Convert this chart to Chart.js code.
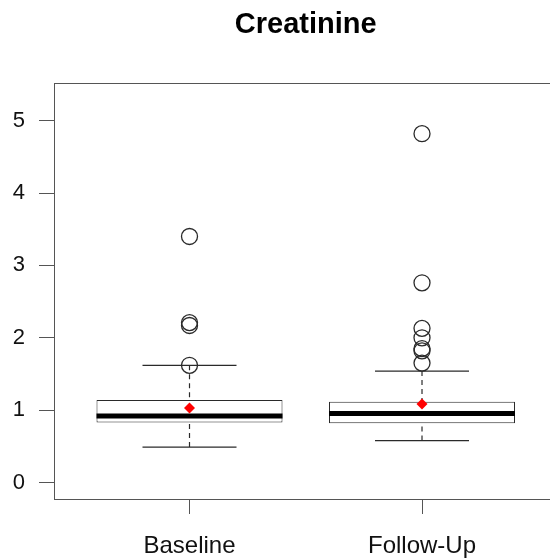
<!DOCTYPE html>
<html>
<head>
<meta charset="utf-8">
<title>Creatinine</title>
<script src="https://cdn.jsdelivr.net/npm/chart.js@4"></script>
<style>
    html, body { margin: 0; padding: 0; background: #fff; overflow: hidden; }
    #wrap { width: 550px; height: 558px; }
</style>
</head>
<body>
<div id="wrap"><canvas id="myChart" width="550" height="558"></canvas></div>
<script>
// data
const chartTitle = 'Creatinine';
const groups = ['Baseline', 'Follow-Up'];
const groupPos = [1, 2];
const lowerWhisker = [0.49, 0.58];
const q1 = [0.83, 0.82];
const median = [0.92, 0.955];
const q3 = [1.14, 1.115];
const upperWhisker = [1.62, 1.54];
const means = [1.03, 1.085];
const outliers = [
    [1.62, 2.17, 2.21, 3.40],
    [1.65, 1.82, 1.85, 2.00, 2.13, 2.76, 4.82]
];
const yTicks = [0, 1, 2, 3, 4, 5];

const LINE = '#2a2a2a';
const AXIS = '#555';

// points / segments built from the arrays above
const meanPoints = groupPos.map((x, i) => ({x: x, y: means[i]}));
const outlierPoints = [];
outliers.forEach((list, i) => list.forEach(v => outlierPoints.push({x: groupPos[i], y: v})));
const medianPoints = groupPos.map((x, i) => ({x: x, y: median[i]}));
const staplePoints = [];
groupPos.forEach((x, i) => {
    staplePoints.push({x: x, y: lowerWhisker[i]});
    staplePoints.push({x: x, y: upperWhisker[i]});
});
const whiskerPoints = [];
groupPos.forEach((x, i) => {
    whiskerPoints.push({x: x, y: lowerWhisker[i]}, {x: x, y: q1[i]}, {x: x, y: null});
    whiskerPoints.push({x: x, y: upperWhisker[i]}, {x: x, y: q3[i]}, {x: x, y: null});
});
const boxData = groupPos.map((x, i) => ({x: x, y: [q1[i], q3[i]]}));

// title centred over the plot region, plus the top edge of the box frame
const rStyle = {
    id: 'rStyle',
    afterDraw(chart) {
        const ctx = chart.ctx;
        const area = chart.chartArea;
        ctx.save();
        ctx.strokeStyle = AXIS;
        ctx.lineWidth = 1;
        ctx.beginPath();
        ctx.moveTo(area.left, Math.round(area.top) + 0.5);
        ctx.lineTo(area.right, Math.round(area.top) + 0.5);
        ctx.stroke();
        ctx.fillStyle = '#000';
        ctx.font = 'bold 29px "Liberation Sans", Arial, sans-serif';
        ctx.textAlign = 'center';
        ctx.textBaseline = 'alphabetic';
        ctx.fillText(chartTitle, chart.scales.x.getPixelForValue(1.5), 33);
        ctx.restore();
    }
};

const ctx = document.getElementById('myChart');

let myChart = new Chart(ctx, {
    type: 'bar',
    data: {
        datasets: [
            {
                type: 'scatter',
                label: 'Mean',
                data: meanPoints,
                pointStyle: 'rectRot',
                pointRadius: 5.5,
                backgroundColor: '#ff0000',
                borderColor: '#ff0000',
                borderWidth: 0
            },
            {
                type: 'scatter',
                label: 'Outliers',
                data: outlierPoints,
                pointStyle: 'circle',
                pointRadius: 8,
                backgroundColor: 'rgba(0,0,0,0)',
                borderColor: LINE,
                borderWidth: 1.3
            },
            {
                type: 'scatter',
                label: 'Median',
                data: medianPoints,
                pointStyle: 'line',
                pointRadius: 93,
                borderColor: '#000',
                borderWidth: 5
            },
            {
                type: 'scatter',
                label: 'Staples',
                data: staplePoints,
                pointStyle: 'line',
                pointRadius: 47,
                borderColor: LINE,
                borderWidth: 1.2
            },
            {
                type: 'line',
                label: 'Whiskers',
                data: whiskerPoints,
                borderColor: LINE,
                borderWidth: 1.2,
                borderDash: [5, 4],
                pointRadius: 0,
                spanGaps: false,
                fill: false
            },
            {
                type: 'bar',
                label: 'Box',
                data: boxData,
                backgroundColor: '#ffffff',
                borderColor: LINE,
                borderWidth: 1,
                borderSkipped: false,
                barPercentage: 0.8,
                categoryPercentage: 1
            }
        ]
    },
    options: {
        responsive: false,
        animation: false,
        events: [],
        layout: {
            autoPadding: false,
            padding: {top: 83, left: 0, right: 0, bottom: 0}
        },
        plugins: {
            legend: {display: false},
            tooltip: {enabled: false},
            title: {display: false}
        },
        scales: {
            x: {
                type: 'linear',
                offset: false,
                min: 0.4172,
                max: 2.5505,
                afterBuildTicks: axis => {
                    axis.ticks = groupPos.map(v => ({value: v}));
                },
                afterFit: axis => {
                    axis.height = 59;
                    axis.paddingLeft = 0;
                    axis.paddingRight = 0;
                },
                grid: {
                    offset: false,
                    drawOnChartArea: false,
                    drawTicks: true,
                    tickLength: 15,
                    tickColor: AXIS,
                    color: AXIS
                },
                border: {display: true, color: AXIS, width: 1},
                ticks: {
                    padding: 18,
                    color: '#111',
                    font: {family: '"Liberation Sans", Arial, sans-serif', size: 24},
                    maxRotation: 0,
                    autoSkip: false,
                    callback: function (value, index) {
                        return groups[index];
                    }
                }
            },
            y: {
                type: 'linear',
                min: -0.228,
                max: 5.521,
                afterBuildTicks: axis => {
                    axis.ticks = yTicks.map(v => ({value: v}));
                },
                afterFit: axis => {
                    axis.width = 54;
                    axis.paddingTop = 0;
                    axis.paddingBottom = 0;
                },
                grid: {
                    drawOnChartArea: false,
                    drawTicks: true,
                    tickLength: 15,
                    tickColor: AXIS,
                    color: AXIS
                },
                border: {display: true, color: AXIS, width: 1},
                ticks: {
                    padding: 14,
                    color: '#111',
                    font: {family: '"Liberation Sans", Arial, sans-serif', size: 22}
                }
            }
        }
    },
    plugins: [rStyle]
});
</script>
</body>
</html>
